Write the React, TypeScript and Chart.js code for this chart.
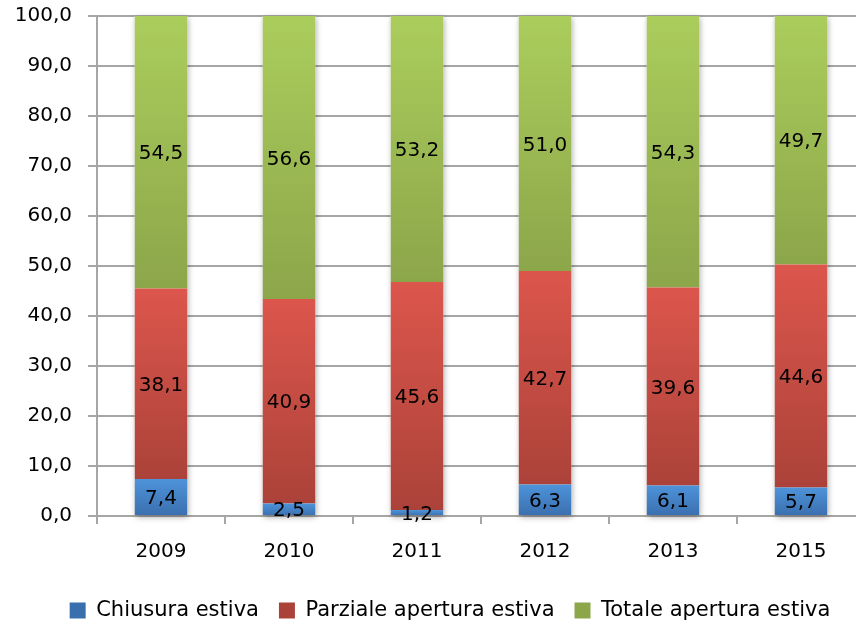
import React, { useEffect, useRef } from "react";
import { Chart, registerables } from "chart.js";

Chart.register(...registerables);

const years = ["2009", "2010", "2011", "2012", "2013", "2015"];
const chiusura = [7.4, 2.5, 1.2, 6.3, 6.1, 5.7];
const parziale = [38.1, 40.9, 45.6, 42.7, 39.6, 44.6];
const totale = [54.5, 56.6, 53.2, 51.0, 54.3, 49.7];
const seriesNames = ["Chiusura estiva", "Parziale apertura estiva", "Totale apertura estiva"];
const yTicks = [0, 10, 20, 30, 40, 50, 60, 70, 80, 90, 100];

const FONT = "'DejaVu Sans', sans-serif";

// light (top) / dark (bottom) / flat shades for each series
const shades: [string, string, string][] = [
  ["#4e93da", "#3a6fae", "#4581c4"],
  ["#dc564c", "#ab4239", "#c84c43"],
  ["#abcd5c", "#8ca64a", "#9cba53"],
];

const allSeries = [chiusura, parziale, totale];

const fmt = (v: number) => v.toFixed(1).replace(".", ",");

function segmentFill(dsIndex: number) {
  return (ctx: any) => {
    const chart = ctx.chart;
    const [light, dark, mid] = shades[dsIndex];
    const i = ctx.dataIndex;
    const y = chart.scales && chart.scales.y;
    if (i === undefined || !y || !chart.chartArea) return mid;
    let start = 0;
    for (let d = 0; d < dsIndex; d++) start += allSeries[d][i];
    const end = start + allSeries[dsIndex][i];
    const top = y.getPixelForValue(end);
    const bottom = y.getPixelForValue(start);
    if (!isFinite(top) || !isFinite(bottom) || top === bottom) return mid;
    const g = chart.ctx.createLinearGradient(0, top, 0, bottom);
    g.addColorStop(0, light);
    g.addColorStop(1, dark);
    return g;
  };
}

// let the y tick labels use the space left of the axis box
const widenYLabels = {
  id: "widenYLabels",
  afterLayout(chart: any) {
    chart.scales.y.left = 0;
  },
};

// soft drop shadow behind each full stacked column
const columnShadow = {
  id: "columnShadow",
  beforeDatasetsDraw(chart: any) {
    const n = chart.data.datasets.length;
    const first = chart.getDatasetMeta(0);
    const last = chart.getDatasetMeta(n - 1);
    const ctx = chart.ctx;
    ctx.save();
    ctx.shadowColor = "rgba(0,0,0,0.35)";
    ctx.shadowBlur = 6;
    ctx.shadowOffsetX = 1;
    ctx.shadowOffsetY = 2;
    ctx.fillStyle = "#ffffff";
    first.data.forEach((el: any, i: number) => {
      const topEl = last.data[i];
      const w = el.width;
      ctx.fillRect(el.x - w / 2, topEl.y, w, el.base - topEl.y);
    });
    ctx.restore();
  },
};

// value labels centered in each segment
const segmentLabels = {
  id: "segmentLabels",
  afterDatasetsDraw(chart: any) {
    const ctx = chart.ctx;
    ctx.save();
    ctx.font = `20px ${FONT}`;
    ctx.fillStyle = "#000000";
    ctx.textAlign = "center";
    ctx.textBaseline = "middle";
    chart.data.datasets.forEach((ds: any, d: number) => {
      const meta = chart.getDatasetMeta(d);
      meta.data.forEach((el: any, i: number) => {
        const cy = (el.y + el.base) / 2;
        ctx.fillText(fmt(ds.data[i]), el.x, cy + 2);
      });
    });
    ctx.restore();
  },
};

export default function App() {
  const ref = useRef<HTMLCanvasElement | null>(null);

  useEffect(() => {
    if (!ref.current) return;
    Chart.defaults.font.family = FONT;
    Chart.defaults.font.size = 20;
    Chart.defaults.color = "#000000";

    const chart = new Chart(ref.current, {
      type: "bar",
      data: {
        labels: years,
        datasets: allSeries.map((data, d) => ({
          label: seriesNames[d],
          data,
          backgroundColor: segmentFill(d),
          borderWidth: 0,
          barPercentage: 0.41,
          categoryPercentage: 1,
        })),
      },
      options: {
        animation: false,
        responsive: false,
        maintainAspectRatio: false,
        layout: { padding: { left: 35, right: 35, top: 16, bottom: -6 } },
        plugins: {
          tooltip: { enabled: false },
          legend: {
            position: "bottom",
            labels: {
              boxWidth: 16,
              boxHeight: 16,
              padding: 20,
              font: { size: 21, family: FONT },
              color: "#000000",
            },
          },
        },
        scales: {
          x: {
            stacked: true,
            grid: {
              offset: true,
              drawOnChartArea: false,
              drawTicks: true,
              tickLength: 8,
              color: "#a6a6a6",
              lineWidth: 2,
            },
            border: { color: "#a6a6a6", width: 2 },
            ticks: { padding: 16, color: "#000000", font: { size: 20, family: FONT } },
          },
          y: {
            stacked: true,
            min: 0,
            max: 100,
            afterFit(scale: any) {
              scale.width = 62;
              scale.paddingTop = 0;
              scale.paddingBottom = 0;
            },
            afterBuildTicks(scale: any) {
              scale.ticks = yTicks.map((v) => ({ value: v }));
            },
            grid: {
              color: "#a6a6a6",
              lineWidth: 2,
              drawTicks: true,
              tickLength: 9,
            },
            border: { color: "#a6a6a6", width: 2 },
            ticks: {
              padding: 16,
              color: "#000000",
              font: { size: 20, family: FONT },
              callback: (v: any) => fmt(Number(v)),
            },
          },
        },
      },
      plugins: [widenYLabels, columnShadow, segmentLabels],
    });
    return () => chart.destroy();
  }, []);

  return (
    <div
      style={{
        position: "absolute",
        left: 0,
        top: 0,
        width: 856,
        height: 625,
        overflow: "hidden",
        background: "#ffffff",
      }}
    >
      <canvas ref={ref} width={900} height={625} style={{ display: "block" }} />
    </div>
  );
}
